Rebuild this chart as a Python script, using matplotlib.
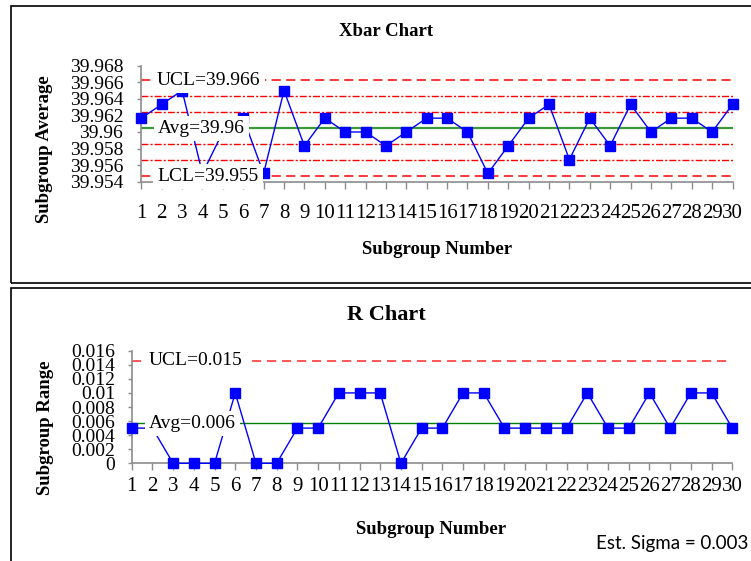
import matplotlib
matplotlib.use("Agg")
import matplotlib.pyplot as plt
from matplotlib.patches import Rectangle
from matplotlib.ticker import FuncFormatter, MultipleLocator

# subgroup data (n = 3 readings per subgroup)
subgroups = list(range(1, 31))
xbar = [39.96167, 39.96333, 39.965, 39.955, 39.96, 39.96167, 39.955, 39.965, 39.95833, 39.96167,
        39.96, 39.96, 39.95833, 39.96, 39.96167, 39.96167, 39.96, 39.955, 39.95833, 39.96167,
        39.96333, 39.95667, 39.96167, 39.95833, 39.96333, 39.96, 39.96167, 39.96167, 39.96, 39.96333]
ranges = [0.005, 0.005, 0, 0, 0, 0.01, 0, 0, 0.005, 0.005,
          0.01, 0.01, 0.01, 0, 0.005, 0.005, 0.01, 0.01, 0.005, 0.005,
          0.005, 0.005, 0.01, 0.005, 0.005, 0.01, 0.005, 0.01, 0.01, 0.005]

# control chart constants for n = 3
A2, D4, d2 = 1.023, 2.574, 1.693

xbar_avg = sum(xbar) / len(xbar)
r_avg = sum(ranges) / len(ranges)
xbar_ucl = xbar_avg + A2 * r_avg
xbar_lcl = xbar_avg - A2 * r_avg
zone = A2 * r_avg / 3
r_ucl = D4 * r_avg
est_sigma = r_avg / d2

W, H = 751, 561
SERIF = "Liberation Serif"
BLUE = "#0000ff"
GRAY = "#8c8c8c"


def fmt(v):
    s = f"{v:.3f}".rstrip("0").rstrip(".")
    return s


def px(x, y):
    return x / W, 1 - y / H


def style_axes(ax, ypad):
    for s in ("top", "right"):
        ax.spines[s].set_visible(False)
    for s in ("left", "bottom"):
        ax.spines[s].set_color(GRAY)
        ax.spines[s].set_linewidth(1.2)
    ax.set_xlim(1, 30)
    ax.set_xticks(subgroups)
    ax.tick_params(axis="y", direction="out", length=3, width=1, color=GRAY, pad=ypad,
                   labelsize=14, labelfontfamily=SERIF)
    ax.yaxis.set_major_formatter(FuncFormatter(lambda v, p: fmt(v)))


def label(ax, text, y, dx):
    ax.annotate(text, xy=(1, y), xytext=(dx, 0), textcoords="offset pixels",
                ha="left", va="center", fontsize=14, family=SERIF, zorder=10,
                bbox=dict(boxstyle="square,pad=0.22", fc="white", ec="none"))


fig = plt.figure(figsize=(W / 100, H / 100), dpi=100)

# chart borders
fig.add_artist(Rectangle(px(10.7, 283), 760 / W, 277 / H, transform=fig.transFigure,
                         fill=False, ec="black", lw=1.2))
fig.add_artist(Rectangle(px(10.7, 600), 760 / W, 312.5 / H, transform=fig.transFigure,
                         fill=False, ec="black", lw=1.2))

# ---- Xbar chart ----
ax1 = fig.add_axes([141.3 / W, 1 - 181.7 / H, 591.2 / W, 116 / H])
style_axes(ax1, 10)
ax1.set_ylim(39.954, 39.968)
ax1.yaxis.set_major_locator(MultipleLocator(0.002))
ax1.tick_params(axis="x", direction="out", length=5, width=1, color=GRAY, pad=11,
                labelsize=15, labelfontfamily=SERIF)

ax1.axhline(xbar_ucl, color="red", lw=1.1, ls=(0, (6, 3.5)))
ax1.axhline(xbar_lcl, color="red", lw=1.1, ls=(0, (6, 3.5)))
for k in (1, 2, -1, -2):
    ax1.axhline(xbar_avg + k * zone, color="red", lw=1.0, ls=(0, (5, 1.5, 1.5, 1.5)))
ax1.axhline(xbar_avg, color="#3a9a3a", lw=1.6)
ax1.plot(subgroups, xbar, color=BLUE, lw=1.0, marker="s", markersize=7, clip_on=False, zorder=5)

label(ax1, f"UCL={fmt(xbar_ucl)}", xbar_ucl, 15.7)
label(ax1, f"Avg={fmt(xbar_avg)}", xbar_avg, 16.5)
label(ax1, f"LCL={fmt(xbar_lcl)}", xbar_lcl, 15.7)

fig.text(*px(386.5, 31.5), "Xbar Chart", ha="center", va="center", fontsize=13.5,
         family=SERIF, weight="bold")
fig.text(*px(437, 249), "Subgroup Number", ha="center", va="center", fontsize=13.5,
         family=SERIF, weight="bold")
fig.text(*px(45, 149.5), "Subgroup Average", ha="center", va="center", rotation=90,
         fontsize=13.5, family=SERIF, weight="bold")

# ---- R chart ----
ax2 = fig.add_axes([131.7 / W, 1 - 463.3 / H, 600.6 / W, 112.6 / H])
style_axes(ax2, 9)
ax2.set_ylim(0, 0.016)
ax2.yaxis.set_major_locator(MultipleLocator(0.002))
ax2.tick_params(axis="x", direction="out", length=5, width=1, color=GRAY, pad=5,
                labelsize=15, labelfontfamily=SERIF)

ax2.axhline(r_ucl, color="#ff3b3b", lw=1.2, ls=(0, (5.5, 3.5)))
ax2.axhline(r_avg, color="#008000", lw=1.0)
ax2.plot(subgroups, ranges, color=BLUE, lw=1.0, marker="s", markersize=7, clip_on=False, zorder=5)

label(ax2, f"UCL={fmt(r_ucl)}", r_ucl, 17.3)
label(ax2, f"Avg={fmt(r_avg)}", r_avg, 17.3)

fig.text(*px(386, 315.5), "R Chart", ha="center", va="center", fontsize=16,
         family=SERIF, weight="bold")
fig.text(*px(431, 529), "Subgroup Number", ha="center", va="center", fontsize=13.5,
         family=SERIF, weight="bold")
fig.text(*px(45, 427.5), "Subgroup Range", ha="center", va="center", rotation=90,
         fontsize=13.5, family=SERIF, weight="bold")

fig.text(*px(748, 543), f"Est. Sigma = {fmt(est_sigma)}", ha="right", va="center",
         fontsize=13.5, family="Lato")

fig.savefig("out.png", dpi=100)
